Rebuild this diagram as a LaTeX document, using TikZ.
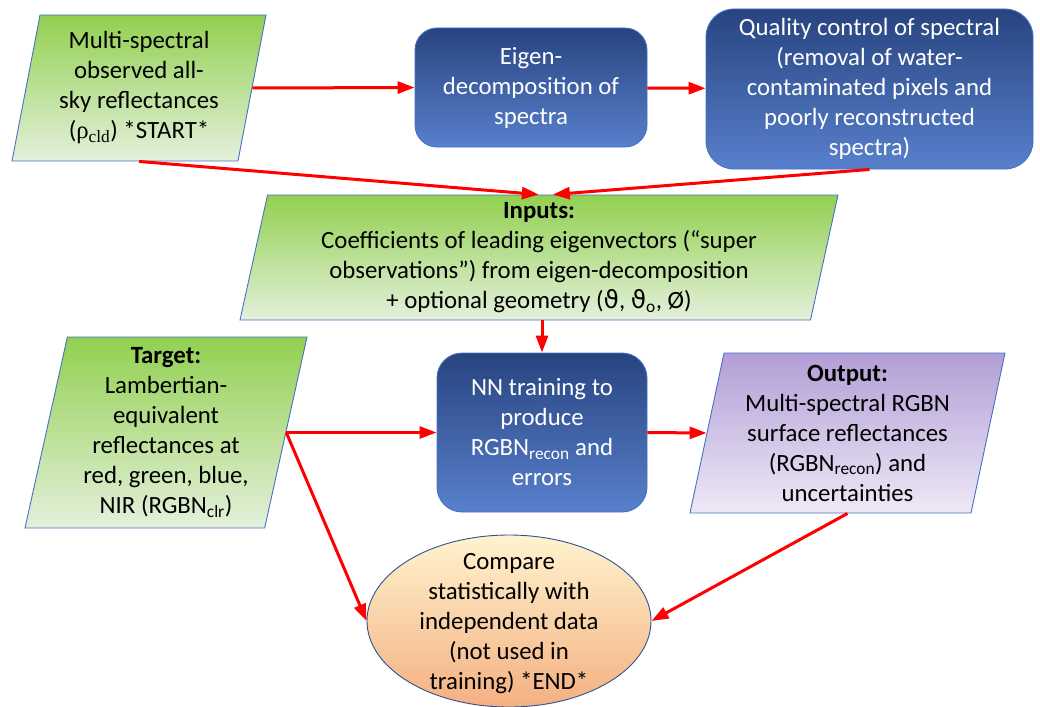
\documentclass[tikz,border=0pt]{standalone}
\usepackage{fontspec}
\setmainfont{Carlito}
\newfontfamily\rmgreek{Liberation Serif}
\newfontfamily\symgreek{DejaVu Sans}
\usetikzlibrary{shapes.geometric,arrows.meta,shadings}
\definecolor{cgreentop}{RGB}{146,208,80}
\definecolor{cgreenbot}{RGB}{228,240,220}
\definecolor{cbluetop}{RGB}{40,68,128}
\definecolor{cbluebot}{RGB}{88,128,204}
\definecolor{cpurptop}{RGB}{178,158,214}
\definecolor{cpurpbot}{RGB}{238,233,246}
\definecolor{corangetop}{RGB}{255,243,206}
\definecolor{corangebot}{RGB}{244,176,130}
\definecolor{cedge}{RGB}{68,114,196}
\definecolor{cdeep}{RGB}{47,82,143}
\tikzset{flow/.style={x=1pt,y=-1pt,font=\fontsize{24.8}{30}\selectfont}}
\tikzset{para/.style={trapezium,trapezium stretches body,trapezium left angle=76,
           trapezium right angle=104,inner sep=0pt,align=center,draw=cedge,line width=0.9pt,
           top color=cgreentop,bottom color=cgreenbot},
         proc/.style={rounded corners=22pt,draw=cedge,line width=0.9pt,align=center,
           text=white,top color=cbluetop,bottom color=cbluebot},
         flowarrow/.style={red,line width=3pt,-{Triangle[length=17pt,width=12pt]}}}

\begin{document}
\begin{tikzpicture}[flow]
    \useasboundingbox (0,0) rectangle (1040,706);
    % top row
    \node[para,minimum width=254pt,minimum height=146pt] (start) at (139,88)
        {Multi-spectral\\observed all-\\sky reflectances\\({\rmgreek ρ}\textsubscript{\rmgreek cld}) *START*};
    \node[proc,minimum width=232pt,minimum height=119pt] (eigen) at (531,87.5)
        {Eigen-\\decomposition of\\spectra};
    \node[proc,rounded corners=28pt,minimum width=327pt,minimum height=160pt] (qc) at (869.5,89)
        {Quality control of spectral\\(removal of water-\\contaminated pixels and\\poorly reconstructed\\spectra)};
    % inputs
    \node[para,minimum width=598pt,minimum height=125pt] (inputs) at (539,257.5)
        {\textbf{Inputs:}\\Coefficients of leading eigenvectors (“super\\observations”) from eigen-decomposition\\+ optional geometry ({\symgreek ϑ}, {\symgreek ϑ}\textsubscript{o}, Ø)};
    % middle row
    \node[para,minimum width=282pt,minimum height=191pt] (target) at (166,432.5)
        {\textbf{Target:}\\Lambertian-\\equivalent\\reflectances at\\red, green, blue,\\NIR (RGBN\textsubscript{clr})};
    \node[proc,rounded corners=25pt,minimum width=210pt,minimum height=159pt] (nn) at (542,432.5)
        {NN training to\\produce\\RGBN\textsubscript{recon} and\\errors};
    \node[para,top color=cpurptop,bottom color=cpurpbot,minimum width=315pt,minimum height=160pt] (output) at (847.5,433)
        {\textbf{Output:}\\Multi-spectral RGBN\\surface reflectances\\(RGBN\textsubscript{recon}) and\\uncertainties};
    % end
    \node[ellipse,draw=cdeep,line width=0.9pt,top color=corangetop,bottom color=corangebot,
          minimum width=284pt,minimum height=172pt] (compare) at (509,621) {};
    \node[align=center] (comparetext) at (509,624)
        {Compare\\statistically with\\independent data\\(not used in\\training) *END*};
    \draw[flowarrow] (start.right side) -- (eigen.west);
    \draw[flowarrow] (eigen) -- (qc);
    \draw[flowarrow] (start.center |- start.bottom side) -- ([xshift=-14pt]inputs.top side);
    \draw[flowarrow] (qc.south) -- (inputs.top side);
    \draw[flowarrow] (nn.north |- inputs.bottom side) -- (nn.north);
    \draw[flowarrow] (target.right side) -- (nn.west);
    \draw[flowarrow] (nn.east) -- (output.left side);
    \draw[flowarrow] (target.right side) -- (compare.west);
    \draw[flowarrow] (output.center |- output.bottom side) -- (compare.east);
\end{tikzpicture}
\end{document}
